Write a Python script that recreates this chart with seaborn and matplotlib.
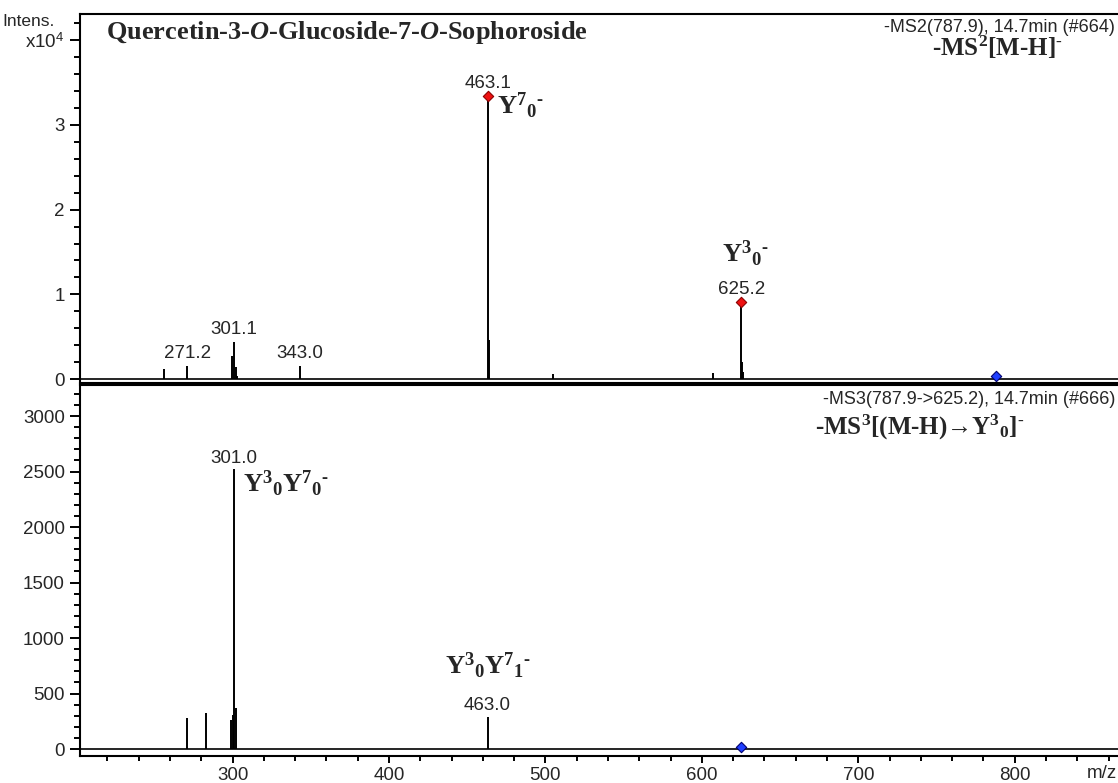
import numpy as np
import matplotlib.pyplot as plt
import matplotlib.ticker as mticker
import pandas as pd
import seaborn as sns

# ---------------------------------------------------------------
#  MS2 / MS3 spectra of quercetin-3-O-glucoside-7-O-sophoroside
# ---------------------------------------------------------------

# MS2 spectrum, intensity in x10^4
ms2_mz = [256.0, 271.2, 299.9, 301.1, 302.1, 303.1, 343.0, 463.1, 464.1,
          505.1, 607.1, 625.2, 625.8, 626.3]
ms2_int = [0.115, 0.153, 0.275, 0.44, 0.145, 0.03, 0.153, 3.34, 0.46,
           0.06, 0.07, 0.91, 0.2, 0.086]
ms2_labels = ['271.2', '301.1', '343.0', '463.1', '625.2']
ms2_marked = [463.1, 625.2]          # red diamonds
ms2_precursor = [787.9]
ms2_precursor_int = [0.03]

# MS3 spectrum (787.9 -> 625.2), raw intensity
ms3_mz = [271.0, 283.0, 299.0, 300.0, 301.0, 302.0, 463.0]
ms3_int = [277, 327, 258, 309, 2520, 369, 291]
ms3_labels = ['301.0', '463.0']
ms3_precursor = [625.2]
ms3_precursor_int = [20]

sns.set_style('ticks')
plt.rcParams['font.family'] = ['Liberation Sans', 'DejaVu Sans']
plt.rcParams['mathtext.fontset'] = 'custom'
plt.rcParams['mathtext.rm'] = 'Liberation Serif:bold'
plt.rcParams['mathtext.it'] = 'Liberation Serif:italic:bold'
plt.rcParams['mathtext.bf'] = 'Liberation Serif:bold'
plt.rcParams['mathtext.sf'] = 'Liberation Sans'

df2 = pd.DataFrame({'mz': ms2_mz, 'int': ms2_int})
df3 = pd.DataFrame({'mz': ms3_mz, 'int': ms3_int})

fig = plt.figure(figsize=(11.18, 7.83), dpi=100)
W, H = 1118, 783
ax1 = fig.add_axes([80 / W, 1 - 383 / H, 1 - 80 / W, 369 / H])
ax2 = fig.add_axes([80 / W, 1 - 756 / H, 1 - 80 / W, 371 / H])

serif = dict(family=['Liberation Serif', 'DejaVu Serif'], weight='bold')
FS = 13.5
HY = '\u2010'   # short hyphen used for the charge sign


def style_axis(ax):
    for side in ['left', 'top', 'bottom']:
        ax.spines[side].set_linewidth(1.5)
        ax.spines[side].set_color('black')
    ax.spines['right'].set_visible(False)
    ax.set_xlim(202.5, 866)
    ax.tick_params(axis='y', which='major', length=7, width=1.4, pad=4,
                   labelsize=FS, color='black')
    ax.tick_params(axis='y', which='minor', length=4, width=1.4, color='black')
    ax.set_xlabel('')
    ax.set_ylabel('')


def stems(ax, df):
    ax.vlines(df['mz'], 0, df['int'], color='black', lw=1.4)
    ax.axhline(0, color='black', lw=1.2)


# ---------------- top panel : MS2 ----------------
stems(ax1, df2)
sns.scatterplot(x=ms2_marked, y=[df2.loc[df2.mz == m, 'int'].iloc[0] for m in ms2_marked],
                marker='D', s=28, color='#ee1111', edgecolor='#8b0000', linewidth=0.8,
                ax=ax1, zorder=5)
sns.scatterplot(x=ms2_precursor, y=ms2_precursor_int, marker='D', s=28,
                color='#1f3fff', edgecolor='#000070', linewidth=0.8, ax=ax1, zorder=5)
style_axis(ax1)
ax1.set_ylim(-0.047, 4.31)
ax1.yaxis.set_major_locator(mticker.FixedLocator([0, 1, 2, 3, 4]))
ax1.yaxis.set_minor_locator(mticker.FixedLocator(np.arange(0, 4.3, 0.2)))
ax1.set_yticklabels(['0', '1', '2', '3', r'x10$^{\mathsf{4}}$'])
ax1.tick_params(axis='x', which='both', bottom=False, labelbottom=False)

for lab in ms2_labels:
    m = float(lab)
    y = df2.loc[df2.mz == m, 'int'].iloc[0]
    ax1.annotate(lab, (m, y), xytext=(0, 3), textcoords='offset points',
                 ha='center', va='bottom', fontsize=FS)

ax1.annotate('Y$^{7}{}_{0}{}^{' + HY + '}$', (463.1, 3.34), xytext=(7, 4),
             textcoords='offset points', ha='left', va='top', fontsize=19, **serif)
ax1.annotate('Y$^{3}{}_{0}{}^{' + HY + '}$', (625.2, 0.91), xytext=(3, 24),
             textcoords='offset points', ha='center', va='bottom', fontsize=19, **serif)

ax1.text(0.025, 0.949, 'Quercetin-3-$\\mathit{O}$-Glucoside-7-$\\mathit{O}$-Sophoroside',
         transform=ax1.transAxes, ha='left', va='center', fontsize=19, **serif)
ax1.text(0.997, 0.963, '-MS2(787.9), 14.7min (#664)', transform=ax1.transAxes,
         ha='right', va='center', fontsize=13)
ax1.text(0.884, 0.91, '-MS$^{2}$[M-H]$^{' + HY + '}$', transform=ax1.transAxes,
         ha='center', va='center', fontsize=18, **serif)
fig.text(55 / W, 1 - 22 / H, 'Intens.', ha='right', va='center', fontsize=12.5)

# ---------------- bottom panel : MS3 ----------------
stems(ax2, df3)
sns.scatterplot(x=ms3_precursor, y=ms3_precursor_int, marker='D', s=28,
                color='#1f3fff', edgecolor='#000070', linewidth=0.8, ax=ax2, zorder=5)
style_axis(ax2)
ax2.set_ylim(-63, 3280)
ax2.yaxis.set_major_locator(mticker.MultipleLocator(500))
ax2.yaxis.set_minor_locator(mticker.MultipleLocator(100))
ax2.xaxis.set_major_locator(mticker.MultipleLocator(100))
ax2.xaxis.set_minor_locator(mticker.MultipleLocator(20))
ax2.tick_params(axis='x', which='major', length=5, width=1.4, pad=3,
                labelsize=FS, color='black')
ax2.tick_params(axis='x', which='minor', length=3.6, width=1.4, color='black')

for lab in ms3_labels:
    m = float(lab)
    y = df3.loc[df3.mz == m, 'int'].iloc[0]
    ax2.annotate(lab, (m, y), xytext=(0, 2), textcoords='offset points',
                 ha='center', va='bottom', fontsize=FS)

ax2.annotate('Y$^{3}{}_{0}$Y$^{7}{}_{0}{}^{' + HY + '}$', (301.0, 2520), xytext=(6.5, 0),
             textcoords='offset points', ha='left', va='top', fontsize=19, **serif)
ax2.annotate('Y$^{3}{}_{0}$Y$^{7}{}_{1}{}^{' + HY + '}$', (463.0, 291), xytext=(0, 26),
             textcoords='offset points', ha='center', va='bottom', fontsize=19, **serif)

ax2.text(0.997, 0.96, '-MS3(787.9->625.2), 14.7min (#666)', transform=ax2.transAxes,
         ha='right', va='center', fontsize=13)
ax2.text(0.809, 0.885, '-MS$^{3}$[(M-H)\u2192Y$^{3}{}_{0}$]$^{' + HY + '}$',
         transform=ax2.transAxes, ha='center', va='center', fontsize=18, **serif)
ax2.annotate('m/z', xy=(1.0, 0), xycoords='axes fraction', xytext=(-1, -16),
             textcoords='offset points', ha='right', va='baseline', fontsize=FS)

fig.savefig('out.png', dpi=100)
